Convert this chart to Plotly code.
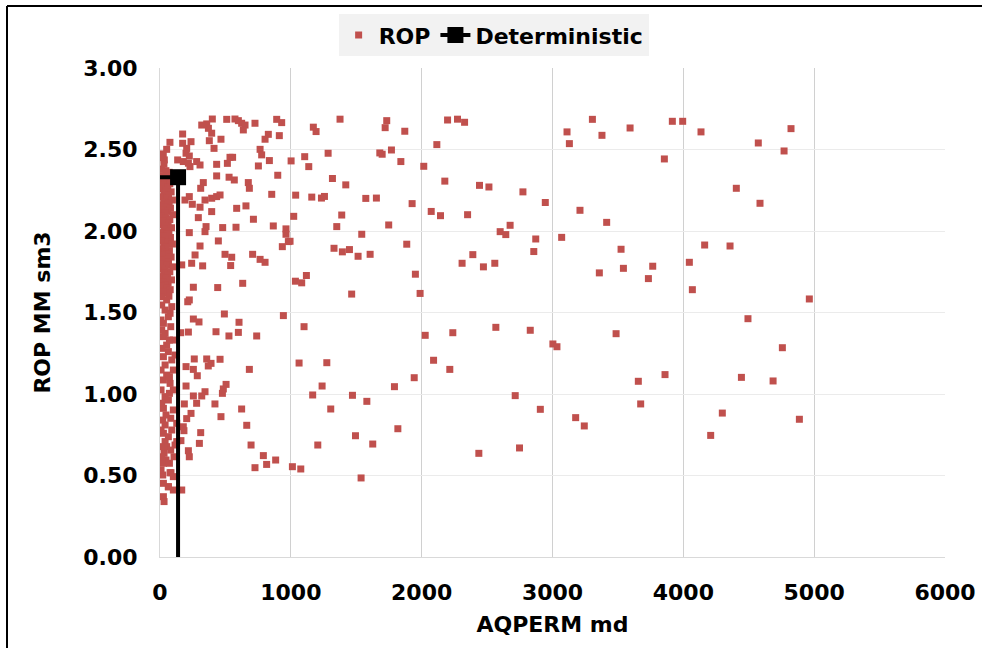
import plotly.graph_objects as go

# ---------------- data ----------------
# ROP scatter, grouped by region of the chart: (AQPERM md, ROP MM sm3)
mid_upper = [
    (1376, 2.686), (1172, 2.637), (1193, 2.61), (1733, 2.677), (1721, 2.634), (1871, 2.612),
    (2198, 2.681), (2274, 2.686), (2328, 2.667), (2116, 2.53), (1002, 2.43), (1106, 2.456),
    (1285, 2.477), (1680, 2.479), (1698, 2.471), (1769, 2.497), (1841, 2.426), (1137, 2.395),
    (2016, 2.397), (1318, 2.322), (1420, 2.283), (2177, 2.306), (2442, 2.28), (2514, 2.27),
    (2774, 2.24), (2945, 2.175), (1037, 2.22), (1160, 2.208), (1234, 2.202), (1257, 2.212),
    (1573, 2.2), (1654, 2.202), (1927, 2.168), (1022, 2.09), (1389, 2.098), (1351, 2.027),
    (1748, 2.037), (2073, 2.12), (2144, 2.094), (2351, 2.1), (1542, 1.98), (994, 1.937),
    (1330, 1.894), (1394, 1.872), (1448, 1.886), (1514, 1.845), (1606, 1.857), (1886, 1.919),
    (2600, 1.996), (2643, 1.978), (2676, 2.035), (2872, 1.951), (2857, 1.874), (2391, 1.855),
    (2309, 1.802), (2472, 1.78), (2559, 1.802), (1119, 1.727), (1035, 1.692), (1083, 1.682),
    (1952, 1.735), (1988, 1.617), (1465, 1.613),
]
mid_lower = [
    (1101, 1.413), (2027, 1.36), (2238, 1.376), (2567, 1.409), (2830, 1.391), (3003, 1.307),
    (3034, 1.29), (1063, 1.19), (1275, 1.192), (2091, 1.207), (2215, 1.151), (1943, 1.1),
    (1239, 1.049), (1792, 1.045), (1167, 0.994), (1471, 0.992), (1581, 0.955), (1305, 0.908),
    (2715, 0.99), (2907, 0.906), (1818, 0.787), (1494, 0.744), (1626, 0.693), (1206, 0.687),
    (2437, 0.636), (2748, 0.669), (1012, 0.554), (1076, 0.54), (1537, 0.485),
]
right_upper = [
    (3305, 2.685), (3111, 2.608), (3378, 2.587), (3593, 2.632), (3129, 2.536), (3916, 2.673),
    (3995, 2.673), (4135, 2.608), (4823, 2.628), (4573, 2.54), (4770, 2.491), (3855, 2.442),
    (4405, 2.262), (4586, 2.17), (3210, 2.127), (3414, 2.053), (3070, 1.961), (3524, 1.888),
    (3358, 1.743), (3542, 1.771), (3766, 1.784), (3733, 1.708), (4163, 1.914), (4357, 1.908),
    (4046, 1.808), (4069, 1.64), (4963, 1.583), (4494, 1.462),
]
right_lower = [
    (3486, 1.37), (4757, 1.284), (3860, 1.119), (3656, 1.078), (4444, 1.102), (4686, 1.08),
    (3674, 0.939), (3177, 0.855), (3243, 0.804), (4298, 0.883), (4887, 0.845), (4209, 0.746),
]
left_upper = [
    (400, 2.687), (510, 2.685), (573, 2.687), (599, 2.677), (624, 2.661), (650, 2.65),
    (637, 2.62), (726, 2.661), (892, 2.685), (930, 2.665), (319, 2.65), (357, 2.657),
    (370, 2.63), (395, 2.6), (173, 2.595), (828, 2.593), (912, 2.585), (76, 2.544),
    (237, 2.548), (377, 2.554), (466, 2.563), (803, 2.563), (173, 2.538), (204, 2.507),
    (413, 2.507), (765, 2.501), (51, 2.501), (25, 2.473), (199, 2.477), (224, 2.46),
    (777, 2.467), (33, 2.436), (135, 2.436), (178, 2.426), (217, 2.416), (280, 2.426),
    (306, 2.405), (229, 2.395), (433, 2.409), (535, 2.452), (555, 2.452), (515, 2.415),
    (836, 2.432), (752, 2.399), (433, 2.338), (528, 2.33), (568, 2.313), (900, 2.342),
    (675, 2.297), (683, 2.262), (331, 2.297), (311, 2.262), (224, 2.211), (191, 2.19),
    (344, 2.19), (395, 2.201), (433, 2.211), (459, 2.221), (854, 2.225), (247, 2.164),
    (306, 2.146), (395, 2.119), (586, 2.139), (657, 2.154), (293, 2.082), (714, 2.072),
    (352, 2.027), (344, 1.996), (479, 2.021), (581, 2.023), (866, 2.031), (224, 1.99),
    (446, 1.939), (963, 2.013), (963, 1.98), (981, 1.935), (306, 1.908), (935, 1.904),
    (497, 1.857), (548, 1.839), (540, 1.788), (708, 1.857), (765, 1.826), (803, 1.808),
    (268, 1.853), (242, 1.802), (166, 1.792), (326, 1.786), (255, 1.655), (441, 1.653),
    (632, 1.679), (224, 1.577),
]
left_lower = [
    (212, 1.566), (492, 1.491), (943, 1.481), (255, 1.46), (298, 1.442), (604, 1.44),
    (217, 1.38), (428, 1.382), (527, 1.356), (599, 1.378), (739, 1.356), (158, 1.376),
    (262, 1.215), (357, 1.215), (390, 1.188), (369, 1.172), (459, 1.213), (199, 1.168),
    (255, 1.151), (285, 1.112), (683, 1.151), (199, 1.049), (344, 1.014), (319, 0.988),
    (255, 0.988), (280, 0.943), (505, 1.059), (484, 1.031), (477, 1.004), (186, 0.939),
    (420, 0.939), (624, 0.908), (237, 0.881), (204, 0.849), (466, 0.861), (663, 0.808),
    (178, 0.799), (183, 0.775), (311, 0.763), (301, 0.697), (696, 0.687), (217, 0.652),
    (224, 0.615), (790, 0.622), (884, 0.595), (815, 0.568), (726, 0.548), (160, 0.714),
    (166, 0.411), (84, 0.517), (102, 0.411), (64, 0.431),
]
strip_upper = [
    (8, 2.45), (30, 2.41), (13, 2.38), (45, 2.37), (70, 2.36), (20, 2.34), (55, 2.33),
    (90, 2.32), (8, 2.31), (38, 2.30), (75, 2.29), (25, 2.28), (60, 2.27), (10, 2.26),
    (45, 2.25), (85, 2.24), (30, 2.23), (65, 2.22), (12, 2.21), (50, 2.20), (95, 2.19),
    (28, 2.18), (70, 2.17), (8, 2.16), (42, 2.15), (80, 2.14), (20, 2.13), (58, 2.12),
    (35, 2.11), (100, 2.10), (10, 2.09), (48, 2.08), (75, 2.07), (25, 2.06), (62, 2.05),
    (15, 2.04), (40, 2.03), (88, 2.02), (30, 2.01), (68, 2.00), (8, 1.99), (52, 1.98),
    (22, 1.97), (80, 1.96), (38, 1.95), (12, 1.94), (60, 1.93), (95, 1.92), (28, 1.91),
    (45, 1.90), (10, 1.89), (72, 1.88), (35, 1.87), (55, 1.86), (18, 1.85), (85, 1.84),
    (42, 1.83), (8, 1.82), (65, 1.81), (25, 1.80), (50, 1.79), (100, 1.78), (15, 1.77),
    (38, 1.76), (75, 1.75), (28, 1.74), (58, 1.73), (10, 1.72), (45, 1.71), (88, 1.70),
    (20, 1.69), (62, 1.68), (35, 1.67), (8, 1.66), (52, 1.65), (78, 1.64), (25, 1.63),
    (42, 1.62), (15, 1.61), (68, 1.60),
]
strip_lower = [
    (26, 1.628), (51, 1.577), (39, 1.515), (77, 1.495), (64, 1.474), (26, 1.434), (39, 1.372),
    (26, 1.352), (102, 1.331), (51, 1.3), (64, 1.26), (26, 1.229), (115, 1.239), (39, 1.178),
    (102, 1.147), (51, 1.116), (26, 1.086), (77, 1.065), (102, 1.025), (39, 0.984), (64, 0.963),
    (26, 0.912), (102, 0.902), (46, 0.871), (21, 0.84), (39, 0.81), (128, 0.82), (26, 0.759),
    (64, 0.738), (39, 0.708), (51, 0.677), (31, 0.636), (46, 0.595), (26, 0.575), (107, 0.615),
    (21, 0.503), (77, 0.517), (64, 0.431), (26, 0.37), (31, 0.34), (128, 0.708), (115, 0.687),
    (8, 1.597), (13, 1.546), (90, 1.536), (8, 1.454), (82, 1.413), (13, 1.393), (72, 1.331),
    (13, 1.28), (90, 1.209), (8, 1.147), (72, 1.106), (8, 1.025), (72, 1.004), (13, 0.943),
    (82, 0.851), (8, 0.779), (90, 0.779), (8, 0.677), (82, 0.656), (13, 0.615), (72, 0.575),
    (8, 0.534), (26, 0.452), (102, 0.493),
]

# Deterministic case
det_x = 138
det_y = 2.33

# ---------------- figure ----------------
groups = [mid_upper, mid_lower, right_upper, right_lower, left_upper, left_lower, strip_upper, strip_lower]
rop_x = [p[0] for g in groups for p in g]
rop_y = [p[1] for g in groups for p in g]

FONT = "DejaVu Sans"
RED = "#C0504D"
FS = 22

fig = go.Figure()
fig.add_trace(go.Scatter(
    x=rop_x, y=rop_y, mode="markers", name="ROP",
    marker=dict(symbol="square", size=7, color=RED),
))
fig.add_trace(go.Scatter(
    x=[0, det_x, det_x], y=[det_y, det_y, 0], mode="lines",
    line=dict(color="black", width=4), showlegend=False, hoverinfo="skip",
))
fig.add_trace(go.Scatter(
    x=[det_x], y=[det_y], mode="lines+markers", name="Deterministic",
    marker=dict(symbol="square", size=16, color="black"),
    line=dict(color="black", width=4),
))

boldfont = dict(family=FONT, size=FS, color="black", weight="bold")

fig.update_layout(
    width=982, height=648,
    margin=dict(l=160, r=37, t=68, b=91, autoexpand=False),
    paper_bgcolor="white", plot_bgcolor="white",
    font=dict(family=FONT, color="black"),
    showlegend=True,
    legend=dict(
        orientation="h", x=0.425, xanchor="center", y=1.11, yanchor="top",
        bgcolor="#F2F2F2", font=boldfont,
        itemwidth=30, tracegroupgap=0,
    ),
    xaxis=dict(
        range=[0, 6000], dtick=1000, tick0=0,
        showgrid=True, gridcolor="#D0D0D0", gridwidth=1,
        showline=True, linecolor="#D9D9D9", linewidth=1, mirror=False,
        zeroline=False, ticks="outside", ticklen=16, tickcolor="rgba(0,0,0,0)",
        tickfont=boldfont,
        title=dict(text="AQPERM md", font=boldfont, standoff=12),
    ),
    yaxis=dict(
        range=[0, 3], dtick=0.5, tick0=0, tickformat=".2f",
        showgrid=True, gridcolor="#EBEBEB", gridwidth=1,
        showline=True, linecolor="#D9D9D9", linewidth=1,
        zeroline=False, ticks="outside", ticklen=17, tickcolor="rgba(0,0,0,0)",
        tickfont=boldfont,
        title=dict(text="ROP MM sm3", font=boldfont, standoff=26),
    ),
    shapes=[
        dict(type="line", xref="paper", yref="paper", x0=-0.1949, x1=1.06, y0=1.1268, y1=1.1268,
             line=dict(color="black", width=2)),
        dict(type="line", xref="paper", yref="paper", x0=-0.1949, x1=-0.1949, y0=1.1268, y1=-0.2,
             line=dict(color="black", width=2)),
    ],
)

fig.write_html("out.html")
